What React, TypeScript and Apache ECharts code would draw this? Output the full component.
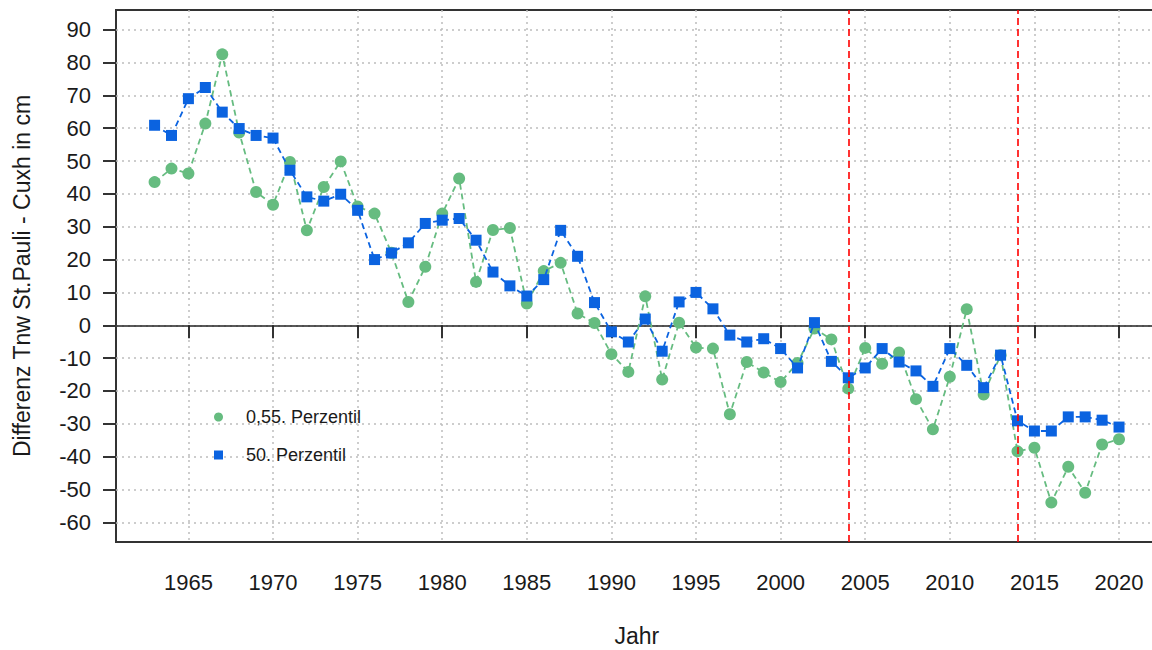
import React, { useEffect, useRef } from "react";
import * as echarts from "echarts";

const years = [
  1963, 1964, 1965, 1966, 1967, 1968, 1969, 1970, 1971, 1972, 1973, 1974, 1975, 1976, 1977,
  1978, 1979, 1980, 1981, 1982, 1983, 1984, 1985, 1986, 1987, 1988, 1989, 1990, 1991, 1992,
  1993, 1994, 1995, 1996, 1997, 1998, 1999, 2000, 2001, 2002, 2003, 2004, 2005, 2006, 2007,
  2008, 2009, 2010, 2011, 2012, 2013, 2014, 2015, 2016, 2017, 2018, 2019, 2020,
];

const perzentil055 = [
  43.6, 47.7, 46.2, 61.4, 82.5, 58.7, 40.6, 36.7, 49.7, 28.9, 42.1, 49.9, 36.2, 34.0, 22.1,
  7.1, 17.8, 34.0, 44.7, 13.2, 29.0, 29.6, 6.6, 16.5, 19.0, 3.6, 0.7, -8.8, -14.2, 8.8,
  -16.5, 0.8, -6.8, -7.1, -27.1, -11.2, -14.4, -17.3, -11.5, -1.0, -4.3, -19.3, -6.9, -11.7, -8.3,
  -22.5, -31.7, -15.7, 4.9, -21.1, -9.1, -38.4, -37.3, -54.0, -43.1, -51.0, -36.3, -34.7,
];

const perzentil50 = [
  60.9, 57.8, 69.0, 72.4, 64.9, 59.9, 57.8, 57.0, 47.2, 39.1, 37.8, 39.9, 35.0, 20.0, 22.0,
  25.1, 31.0, 32.0, 32.5, 25.9, 16.2, 12.0, 8.9, 13.9, 28.9, 21.0, 6.9, -2.0, -5.1, 1.9,
  -7.9, 7.1, 10.0, 5.0, -3.0, -5.1, -4.1, -7.1, -13.0, 0.8, -11.0, -16.0, -13.0, -7.1, -11.2,
  -13.9, -18.6, -7.1, -12.2, -19.0, -9.1, -29.1, -32.2, -32.2, -27.9, -27.9, -28.9, -31.0,
];

const xTicks = [1965, 1970, 1975, 1980, 1985, 1990, 1995, 2000, 2005, 2010, 2015, 2020];
const yTicks = [-60, -50, -40, -30, -20, -10, 0, 10, 20, 30, 40, 50, 60, 70, 80, 90];
const redLineYears = [2004, 2014];
const seriesNames = ["0,55. Perzentil", "50. Perzentil"];
const xTitle = "Jahr";
const yTitle = "Differenz Tnw St.Pauli - Cuxh in cm";

const GREEN = "#66BC80";
const BLUE = "#0B63E0";
const FONT = "Liberation Sans, Arial, Helvetica, sans-serif";

export default function App() {
  const ref = useRef<HTMLDivElement>(null);

  useEffect(() => {
    document.body.style.margin = "0";
    if (!ref.current) return;
    const chart = echarts.init(ref.current, undefined, { renderer: "svg" });

    const gridLineStyle = { color: "#BDBDBD", width: 1.5, type: [2, 4] as number[] };

    const option: any = {
      animation: false,
      backgroundColor: "#ffffff",
      textStyle: { fontFamily: FONT },
      grid: {
        left: 116,
        top: 10,
        width: 1041.6,
        height: 532,
        outerBoundsMode: "none",
        containLabel: false,
        show: true,
        borderColor: "#333333",
        borderWidth: 2,
        backgroundColor: "transparent",
      },
      legend: {
        orient: "vertical",
        left: 209,
        top: 403,
        itemWidth: 9,
        itemHeight: 9,
        itemGap: 20,
        textStyle: { fontSize: 18, color: "#1a1a1a", fontFamily: FONT, padding: [0, 0, 0, 18] },
        itemStyle: { borderWidth: 0 },
        data: [
          { name: seriesNames[0], icon: "circle" },
          { name: seriesNames[1], icon: "rect", itemStyle: { borderWidth: 0 } },
        ],
      },
      xAxis: {
        type: "value",
        min: 1960.72,
        max: 2022.28,
        name: xTitle,
        nameLocation: "middle",
        nameGap: 82,
        nameTextStyle: { fontSize: 23, color: "#1a1a1a", fontFamily: FONT },
        axisLine: { show: false },
        axisTick: {
          show: true,
          inside: false,
          length: 13,
          customValues: xTicks,
          lineStyle: { color: "#333333", width: 2 },
        },
        axisLabel: {
          customValues: xTicks,
          margin: 29,
          fontSize: 22,
          color: "#1a1a1a",
          fontFamily: FONT,
          formatter: (v: number) => String(v),
        },
        splitLine: { show: true, lineStyle: gridLineStyle },
      },
      yAxis: {
        type: "value",
        min: -66,
        max: 96,
        name: yTitle,
        nameLocation: "middle",
        nameRotate: 90,
        nameGap: 83,
        nameTextStyle: { fontSize: 23, color: "#1a1a1a", fontFamily: FONT },
        axisLine: { show: false },
        axisTick: {
          show: true,
          inside: false,
          length: 13,
          customValues: yTicks,
          lineStyle: { color: "#333333", width: 2 },
        },
        axisLabel: {
          customValues: yTicks,
          margin: 25,
          fontSize: 22,
          color: "#1a1a1a",
          fontFamily: FONT,
          formatter: (v: number) => String(v),
        },
        splitLine: { show: true, lineStyle: gridLineStyle },
      },
      series: [
        {
          name: seriesNames[0],
          type: "line",
          data: years.map((y, i) => [y, perzentil055[i]]),
          symbol: "circle",
          symbolSize: 12,
          showAllSymbol: true,
          itemStyle: { color: GREEN, borderWidth: 0 },
          lineStyle: { color: GREEN, width: 1.8, type: [6, 4] },
          z: 3,
          markLine: {
            silent: true,
            symbol: ["none", "none"],
            label: { show: false },
            lineStyle: { color: "#222222", width: 1.6, type: "solid" },
            data: [{ yAxis: 0 }],
            z: 1,
          },
        },
        {
          name: seriesNames[1],
          type: "line",
          data: years.map((y, i) => [y, perzentil50[i]]),
          symbol: "rect",
          symbolSize: 11,
          showAllSymbol: true,
          itemStyle: { color: BLUE, borderWidth: 0 },
          lineStyle: { color: BLUE, width: 1.8, type: [6, 4] },
          z: 4,
          markLine: {
            silent: true,
            symbol: ["none", "none"],
            label: { show: false },
            lineStyle: { color: "#FF0000", width: 1.6, type: [7, 4] },
            data: redLineYears.map((y) => ({ xAxis: y })),
          },
        },
      ],
    };

    chart.setOption(option);
    return () => chart.dispose();
  }, []);

  return (
    <div
      ref={ref}
      style={{ position: "fixed", left: 0, top: 0, width: 1152, height: 650, background: "#fff" }}
    />
  );
}
